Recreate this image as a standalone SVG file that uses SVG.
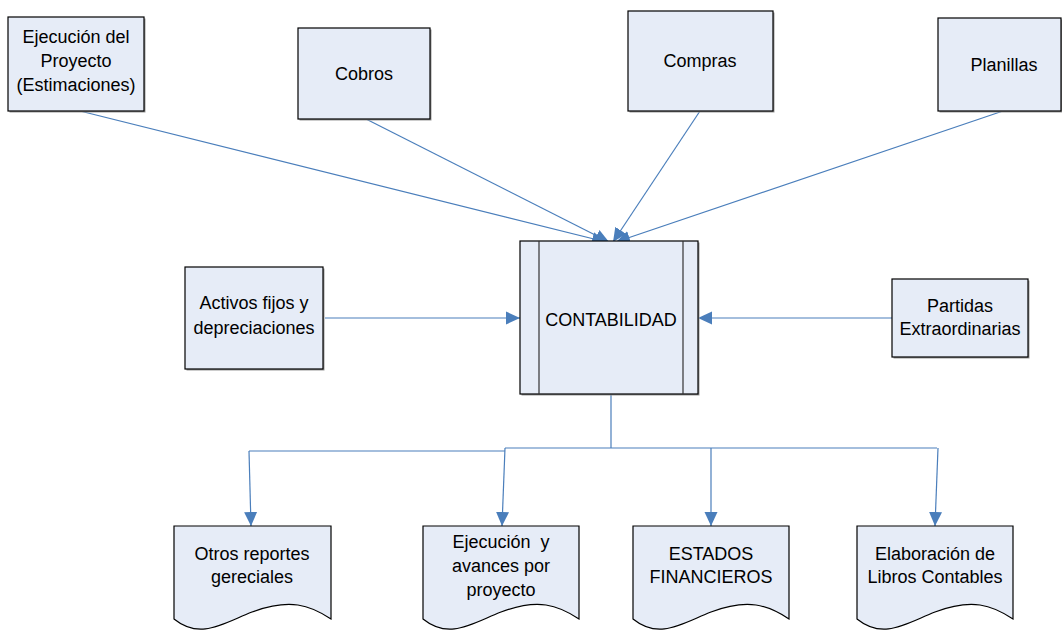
<svg xmlns="http://www.w3.org/2000/svg" width="1062" height="630" viewBox="0 0 1062 630">
  <style>
    .box { fill: #e6ecf7; stroke: #000; stroke-width: 1.2; }
    .shadow { fill: #9a9a9a; }
    .inner { stroke: #333; stroke-width: 1.2; fill: none; }
    .lbl { font-family: "Liberation Sans", Arial, sans-serif; font-size: 18px; fill: #000; text-anchor: middle; white-space: pre; }
    .conn { stroke: #4a7ebb; stroke-width: 1.2; fill: none; }
    .arr { marker-end: url(#head); }
  </style>
  <defs>
    <marker id="head" markerUnits="userSpaceOnUse" markerWidth="16" markerHeight="16" viewBox="0 0 16 16" refX="14" refY="8" orient="auto">
      <path d="M0,1.5 L14,8 L0,14.5 Z" fill="#4a7ebb"/>
    </marker>
  </defs>

  <rect width="1062" height="630" fill="#fff"/>

  <!-- connectors -->
  <g id="connectors">
    <line class="conn arr" x1="80" y1="111" x2="606" y2="242"/>
    <line class="conn arr" x1="366" y1="119" x2="609" y2="242"/>
    <line class="conn arr" x1="700" y1="111" x2="613" y2="242"/>
    <line class="conn arr" x1="1003" y1="111" x2="616" y2="242"/>
    <line class="conn arr" x1="325" y1="318" x2="520" y2="318"/>
    <line class="conn arr" x1="892" y1="318" x2="698" y2="318"/>
    <polyline class="conn" points="611,394 611,448"/>
    <polyline class="conn" points="505,448 937,448"/>
    <polyline class="conn" points="249,451 505,451"/>
    <line class="conn arr" x1="249" y1="451" x2="251" y2="526"/>
    <line class="conn arr" x1="505" y1="448" x2="502" y2="526"/>
    <line class="conn arr" x1="711" y1="448" x2="711" y2="526"/>
    <line class="conn arr" x1="938" y1="448" x2="935" y2="526"/>
  </g>

  <!-- input processes -->
  <g id="ejecucion-proyecto">
    <rect class="shadow" x="9.5" y="18.5" width="136" height="94"/>
    <rect class="box" x="8" y="17" width="136" height="94"/>
    <text class="lbl" x="76" y="43">Ejecución del</text>
    <text class="lbl" x="76" y="67">Proyecto</text>
    <text class="lbl" x="76" y="91">(Estimaciones)</text>
  </g>

  <g id="cobros">
    <rect class="shadow" x="299.5" y="29.5" width="132" height="91"/>
    <rect class="box" x="298" y="28" width="132" height="91"/>
    <text class="lbl" x="364" y="80">Cobros</text>
  </g>

  <g id="compras">
    <rect class="shadow" x="629.5" y="12.5" width="145" height="100"/>
    <rect class="box" x="628" y="11" width="145" height="100"/>
    <text class="lbl" x="700" y="67">Compras</text>
  </g>

  <g id="planillas">
    <rect class="shadow" x="939.5" y="19.5" width="124" height="93"/>
    <rect class="box" x="938" y="18" width="123" height="93"/>
    <text class="lbl" x="1004" y="71">Planillas</text>
  </g>

  <g id="activos">
    <rect class="shadow" x="186.5" y="268.5" width="138" height="102"/>
    <rect class="box" x="185" y="267" width="138" height="102"/>
    <text class="lbl" x="254" y="309">Activos fijos y</text>
    <text class="lbl" x="254" y="334">depreciaciones</text>
  </g>

  <g id="partidas">
    <rect class="shadow" x="893.5" y="280.5" width="136" height="78"/>
    <rect class="box" x="892" y="279" width="136" height="78"/>
    <text class="lbl" x="960" y="312">Partidas</text>
    <text class="lbl" x="960" y="335">Extraordinarias</text>
  </g>

  <!-- central predefined process -->
  <g id="contabilidad">
    <rect class="shadow" x="521.5" y="242.5" width="178" height="153"/>
    <rect class="box" x="520" y="241" width="178" height="153"/>
    <line class="inner" x1="539" y1="241" x2="539" y2="394"/>
    <line class="inner" x1="683" y1="241" x2="683" y2="394"/>
    <text class="lbl" x="611" y="326">CONTABILIDAD</text>
  </g>

  <!-- output documents -->
  <g id="otros-reportes">
    <path class="box" d="M174,526 H331 V619 C310,605 290,598 252,612 C222,624 200,640 174,619 Z"/>
    <text class="lbl" x="252" y="560">Otros reportes</text>
    <text class="lbl" x="252" y="583">gereciales</text>
  </g>

  <g id="ejecucion-avances">
    <path class="box" d="M423,526 H579 V619 C558,605 538,598 501,612 C471,624 449,640 423,619 Z"/>
    <text class="lbl" x="501" y="548">Ejecución  y</text>
    <text class="lbl" x="501" y="572">avances por</text>
    <text class="lbl" x="501" y="596">proyecto</text>
  </g>

  <g id="estados-financieros">
    <path class="box" d="M633,526 H789 V619 C768,605 748,598 711,612 C681,624 659,640 633,619 Z"/>
    <text class="lbl" x="711" y="560">ESTADOS</text>
    <text class="lbl" x="711" y="583">FINANCIEROS</text>
  </g>

  <g id="libros-contables">
    <path class="box" d="M857,526 H1013 V619 C992,605 972,598 935,612 C905,624 883,640 857,619 Z"/>
    <text class="lbl" x="935" y="560">Elaboración de</text>
    <text class="lbl" x="935" y="583">Libros Contables</text>
  </g>
</svg>
